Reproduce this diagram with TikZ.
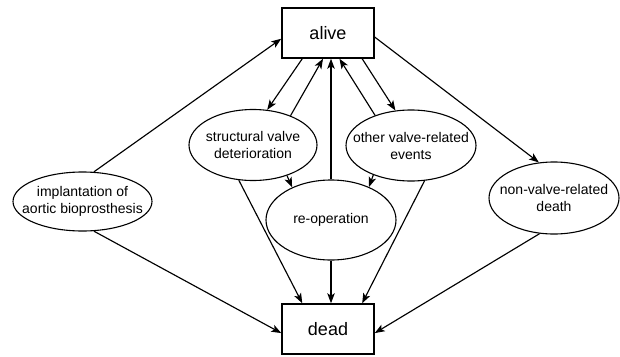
\documentclass[tikz,border=0pt]{standalone}
\usepackage{fontspec}
\setmainfont{Liberation Sans}
\usetikzlibrary{shapes.geometric}
\usetikzlibrary{arrows.meta}

\begin{document}
\begin{tikzpicture}[x=1pt,y=-1pt,
    boite/.style={draw,line width=1.5pt,minimum width=92pt,minimum height=50pt,font=\fontsize{18}{21}\selectfont},
    ovale/.style={draw,ellipse,line width=1.1pt,inner sep=-60pt,align=center,font=\fontsize{14}{17}\selectfont},
    fleche/.style={line width=1.15pt,-{Stealth[length=10pt,width=7.5pt,inset=2.5pt]}}]
                 \useasboundingbox (0,0) rectangle (620,356);
                 \node[boite] (alive) at (328,33) {alive};
                 \node[boite] (dead) at (328,329) {dead};
                 \node[ovale,minimum width=139pt,minimum height=59pt] (impl) at (82.5,201.5) {implantation of\\aortic bioprosthesis};
                 \node[ovale,minimum width=128pt,minimum height=71pt] (svd) at (253,145) {structural valve\\deterioration};
                 \node[ovale,minimum width=130pt,minimum height=71pt] (ovr) at (411,145.5) {other valve-related\\events};
                 \node[ovale,minimum width=130pt,minimum height=80pt] (reop) at (331,220) {re-operation};
                 \node[ovale,minimum width=130pt,minimum height=72pt] (nvr) at (554,198) {non-valve-related\\death};
                 \draw[fleche] (impl.69) -- (alive.187);
                 \draw[fleche] (impl.-69) -- (dead.185);
                 \draw[fleche] (alive.-135) -- (svd.68);
                 \draw[fleche] (svd.38) -- (alive.-101);
                 \draw[fleche] (reop.north) -- (reop.north |- alive.south);
                 \draw[fleche] (ovr.140) -- (alive.-66);
                 \draw[fleche] (alive.-37) -- (ovr.114);
                 \draw[fleche] (alive.-5) -- (nvr.113);
                 \draw[fleche] (svd.-42) -- (reop.140);
                 \draw[fleche] (ovr.-142) -- (reop.41);
                 \draw[fleche] (svd.-112) -- (dead.135);
                 \draw[fleche] (ovr.-69) -- (dead.37);
                 \draw[fleche] (reop.south) -- (reop.south |- dead.north);
                 \draw[fleche] (nvr.-112) -- (dead.-5);
            \end{tikzpicture}
\end{document}
